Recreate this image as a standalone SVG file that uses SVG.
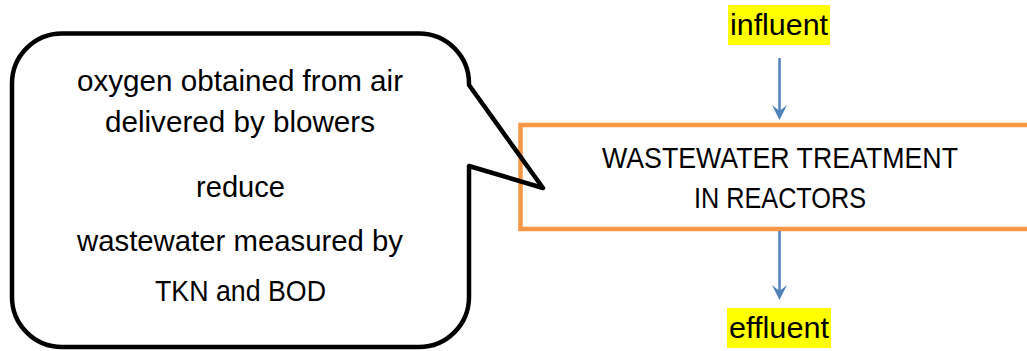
<svg xmlns="http://www.w3.org/2000/svg" width="1027" height="351" viewBox="0 0 1027 351">
  <style>
    .t { font-family: "Liberation Sans", Arial, sans-serif; font-size: 29.5px; fill: #000; text-anchor: middle; }
    .hl { fill: #FFFF00; }
    .conn { stroke: #4F81BD; stroke-width: 2.5; fill: none; marker-end: url(#arr); }
  </style>
  <defs>
    <marker id="arr" markerUnits="userSpaceOnUse" markerWidth="16" markerHeight="16" refX="7" refY="8" orient="auto">
      <path d="M0,0.5 L15,8 L0,15.5 L6,8 Z" fill="#4F81BD"/>
    </marker>
  </defs>
  <rect width="1027" height="351" fill="#fff"/>

  <g id="reactor">
    <rect x="520.5" y="125" width="620" height="104" fill="#fff" stroke="#F79646" stroke-width="4.5"/>
    <text class="t" x="780" y="168" textLength="356" lengthAdjust="spacingAndGlyphs">WASTEWATER TREATMENT</text>
    <text class="t" x="780" y="208" textLength="172" lengthAdjust="spacingAndGlyphs">IN REACTORS</text>
  </g>

  <g id="callout">
    <path d="M62 33.5 L419 33.5 A50 50 0 0 1 469 83.5 L469 85 L543 188 L469 166 L469 297 A50 50 0 0 1 419 347 L62 347 A50 50 0 0 1 12 297 L12 83.5 A50 50 0 0 1 62 33.5 Z" fill="none" stroke="#000" stroke-width="4.5" stroke-linejoin="round"/>
    <text class="t" x="240" y="91" textLength="326" lengthAdjust="spacingAndGlyphs">oxygen obtained from air</text>
    <text class="t" x="240" y="132" textLength="270" lengthAdjust="spacingAndGlyphs">delivered by blowers</text>
    <text class="t" x="240.5" y="197" textLength="89" lengthAdjust="spacingAndGlyphs">reduce</text>
    <text class="t" x="240" y="251" textLength="326" lengthAdjust="spacingAndGlyphs">wastewater measured by</text>
    <text class="t" x="240.5" y="301" textLength="171" lengthAdjust="spacingAndGlyphs">TKN and BOD</text>
  </g>

  <g id="influent">
    <rect class="hl" x="728" y="5" width="102" height="40"/>
    <text class="t" x="779" y="35" textLength="98" lengthAdjust="spacingAndGlyphs">influent</text>
  </g>

  <g id="effluent">
    <rect class="hl" x="727" y="308" width="104" height="40"/>
    <text class="t" x="779" y="338" textLength="100" lengthAdjust="spacingAndGlyphs">effluent</text>
  </g>

  <g id="connectors">
    <line class="conn" x1="779.5" y1="58" x2="779.5" y2="112"/>
    <line class="conn" x1="779.5" y1="231" x2="779.5" y2="292"/>
  </g>
</svg>
